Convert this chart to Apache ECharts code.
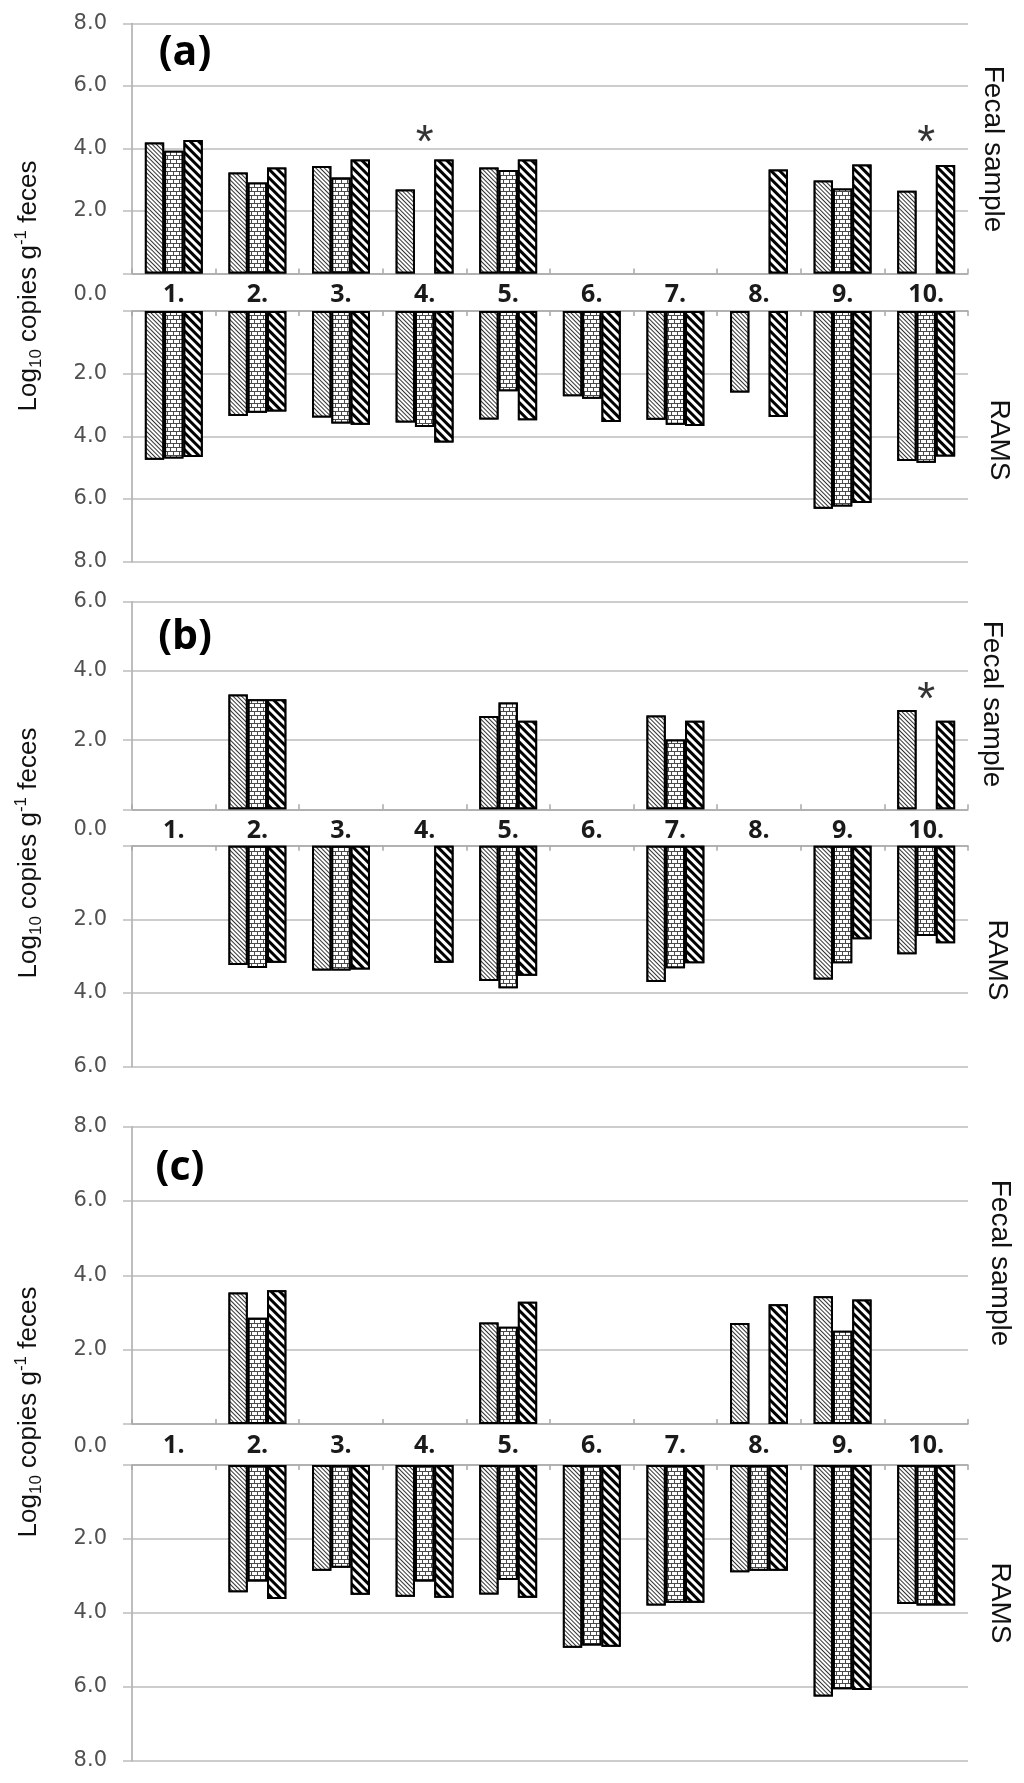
<!DOCTYPE html>
<html>
<head>
<meta charset="utf-8">
<script src="https://cdn.jsdelivr.net/npm/echarts@6/dist/echarts.min.js"></script>
<style>
html,body{margin:0;padding:0;background:#fff;}
#chart{width:1024px;height:1783px;}
</style>
</head>
<body>
<div id="chart"></div>
<script>
// ---------------- data ----------------
const categories = ['1.', '2.', '3.', '4.', '5.', '6.', '7.', '8.', '9.', '10.'];

// panel (a)
const aFecal1 = [4.19, 3.23, 3.44, 2.69, 3.39, null, null, null, 2.98, 2.65];
const aFecal2 = [3.93, 2.91, 3.07, null, 3.31, null, null, null, 2.72, null];
const aFecal3 = [4.27, 3.39, 3.65, 3.65, 3.65, null, null, 3.33, 3.49, 3.47];
const aRams1 = [4.75, 3.35, 3.40, 3.56, 3.46, 2.72, 3.47, 2.60, 6.31, 4.79];
const aRams2 = [4.71, 3.25, 3.59, 3.70, 2.56, 2.80, 3.63, null, 6.24, 4.84];
const aRams3 = [4.66, 3.21, 3.63, 4.20, 3.49, 3.54, 3.67, 3.38, 6.13, 4.64];

// panel (b)
const bFecal1 = [null, 3.32, null, null, 2.70, null, 2.71, null, null, 2.87];
const bFecal2 = [null, 3.18, null, null, 3.09, null, 2.02, null, null, null];
const bFecal3 = [null, 3.18, null, null, 2.56, null, 2.56, null, null, 2.56];
const bRams1 = [null, 3.24, 3.39, null, 3.67, null, 3.70, null, 3.63, 2.95];
const bRams2 = [null, 3.32, 3.39, null, 3.87, null, 3.33, null, 3.19, 2.45];
const bRams3 = [null, 3.18, 3.36, 3.18, 3.53, null, 3.19, null, 2.54, 2.65];

// panel (c)
const cFecal1 = [null, 3.54, null, null, 2.73, null, null, 2.72, 3.44, null];
const cFecal2 = [null, 2.86, null, null, 2.62, null, null, null, 2.51, null];
const cFecal3 = [null, 3.60, null, null, 3.29, null, null, 3.22, 3.35, null];
const cRams1 = [null, 3.44, 2.86, 3.56, 3.50, 4.94, 3.80, 2.90, 6.26, 3.76];
const cRams2 = [null, 3.15, 2.78, 3.15, 3.11, 4.88, 3.72, 2.86, 6.06, 3.80];
const cRams3 = [null, 3.62, 3.51, 3.59, 3.59, 4.91, 3.72, 2.86, 6.08, 3.80];

// axis maxima per panel
const axisMax = [8, 6, 8];
const tickStep = 2;

// asterisk annotations: panel index, category, value
const asteriskPanel = [0, 0, 1];
const asteriskCat = ['4.', '10.', '10.'];
const asteriskValue = [4.5, 4.5, 3.45];

const panelLetters = ['(a)', '(b)', '(c)'];
const topLabel = 'Fecal sample';
const bottomLabel = 'RAMS';

// ---------------- styles / layout ----------------
const panelData = [
  { fecal: [aFecal1, aFecal2, aFecal3], rams: [aRams1, aRams2, aRams3] },
  { fecal: [bFecal1, bFecal2, bFecal3], rams: [bRams1, bRams2, bRams3] },
  { fecal: [cFecal1, cFecal2, cFecal3], rams: [cRams1, cRams2, cRams3] }
];
const layout = [
  { top: [23.5, 250], bot: [311, 250.7], zeroY: 295, titleY: 286, letter: [185, 53], fecal: [993, 149], rams: [999, 440] },
  { top: [601.7, 207.6], bot: [845.7, 221], zeroY: 830, titleY: 853, letter: [185, 637], fecal: [992, 704], rams: [997, 960] },
  { top: [1126.7, 297.3], bot: [1465, 296], zeroY: 1447, titleY: 1412, letter: [180, 1168], fecal: [1000, 1263], rams: [1000, 1603] }
];
const GL = 132, GR = 56;
const gridColor = '#bdbdbd';
const axisColor = '#a8a8a8';
const tickFont = 'DejaVu Sans';

const decals = [
  { symbol: 'rect', symbolSize: 1, color: '#333333', backgroundColor: '#ffffff', dashArrayX: [1, 0], dashArrayY: [1, 1.8], rotation: Math.PI / 4 },
  { symbol: 'rect', symbolSize: 1, color: '#ffffff', backgroundColor: '#4a4a4a', dashArrayX: [[5, 1], [2, 1, 3, 0]], dashArrayY: [3, 1], rotation: 0 },
  { symbol: 'rect', symbolSize: 1, color: '#000000', backgroundColor: '#ffffff', dashArrayX: [1, 0], dashArrayY: [2.6, 3], rotation: Math.PI / 4 }
];

const grids = [], xAxes = [], yAxes = [], series = [], graphic = [];

function yFmt(v) { return v === 0 ? '' : v.toFixed(1); }

layout.forEach((L, p) => {
  const max = axisMax[p];
  [['top', L.top], ['bot', L.bot]].forEach(([kind, g], k) => {
    const gi = grids.length;
    grids.push({ left: GL, right: GR, top: g[0], height: g[1], containLabel: false });
    xAxes.push({
      type: 'category', gridIndex: gi, data: categories,
      position: kind === 'top' ? 'bottom' : 'top',
      boundaryGap: true,
      axisLine: { show: true, lineStyle: { color: axisColor, width: 1.5 } },
      axisTick: { show: true, inside: true, length: 5, alignWithLabel: false, lineStyle: { color: axisColor, width: 1.5 } },
      axisLabel: kind === 'top' ? {
        show: true, margin: 9, color: '#1a1a1a', fontFamily: 'Open Sans', fontWeight: 'bold', fontSize: 25, interval: 0
      } : { show: false },
      splitLine: { show: false }
    });
    yAxes.push({
      type: 'value', gridIndex: gi, min: 0, max: max, interval: tickStep,
      inverse: kind === 'bot',
      axisLine: { show: true, lineStyle: { color: axisColor, width: 1.5 } },
      axisTick: { show: true, length: 9, lineStyle: { color: gridColor, width: 1.5 } },
      axisLabel: { show: true, margin: 25, color: '#505050', fontFamily: tickFont, fontSize: 21, formatter: yFmt },
      splitLine: { show: true, lineStyle: { color: gridColor, width: 1.5 } }
    });
    const arrs = kind === 'top' ? panelData[p].fecal : panelData[p].rams;
    arrs.forEach((arr, s) => {
      series.push({
        type: 'bar', xAxisIndex: gi, yAxisIndex: gi, data: arr,
        barWidth: 19.3, barGap: '0%',
        itemStyle: { color: '#ffffff', borderColor: '#000', borderWidth: 2, decal: decals[s] },
        emphasis: { disabled: true }, silent: true
      });
    });
    if (kind === 'top') {
      const pts = [];
      asteriskPanel.forEach((ap, i) => { if (ap === p) pts.push([asteriskCat[i], asteriskValue[i]]); });
      if (pts.length) {
        series.push({
          type: 'scatter', xAxisIndex: gi, yAxisIndex: gi, data: pts,
          symbol: 'circle', symbolSize: 1, itemStyle: { color: 'rgba(0,0,0,0)' },
          label: { show: true, position: 'inside', formatter: '*', fontFamily: 'Liberation Sans', fontSize: 46, color: '#000', offset: [0, 11] },
          silent: true, z: 5
        });
      }
    }
  });

  // 0.0 label between the two halves
  graphic.push({ type: 'text', x: 107, y: L.zeroY, style: { text: '0.0', fill: '#505050', font: '21px "DejaVu Sans"', align: 'right', verticalAlign: 'middle' } });
  // panel letter
  graphic.push({ type: 'text', x: L.letter[0], y: L.letter[1], style: { text: panelLetters[p], fill: '#000', font: 'bold 41px "Open Sans"', align: 'center', verticalAlign: 'middle' } });
  // right labels
  graphic.push({ type: 'text', x: L.fecal[0], y: L.fecal[1], rotation: -Math.PI / 2, style: { text: topLabel, fill: '#111', font: '28px "Liberation Sans"', align: 'center', verticalAlign: 'middle' } });
  graphic.push({ type: 'text', x: L.rams[0], y: L.rams[1], rotation: -Math.PI / 2, style: { text: bottomLabel, fill: '#111', font: '28px "Liberation Sans"', align: 'center', verticalAlign: 'middle' } });
  // y title
  graphic.push({
    type: 'text', x: 29, y: L.titleY, rotation: Math.PI / 2,
    style: {
      text: '{n|Log}{sub|10}{n| copies g}{sup|-1}{n| feces}',
      align: 'center', verticalAlign: 'middle',
      rich: {
        n: { fontFamily: 'Liberation Sans', fontSize: 26, lineHeight: 32, verticalAlign: 'middle', fill: '#111', color: '#111' },
        sub: { fontFamily: 'Liberation Sans', fontSize: 17, lineHeight: 17, verticalAlign: 'bottom', fill: '#111', color: '#111' },
        sup: { fontFamily: 'Liberation Sans', fontSize: 17, lineHeight: 17, verticalAlign: 'top', fill: '#111', color: '#111' }
      }
    }
  });
});

const chart = echarts.init(document.getElementById('chart'), null, { renderer: 'canvas' });
chart.setOption({
  animation: false,
  backgroundColor: '#ffffff',
  grid: grids, xAxis: xAxes, yAxis: yAxes, series: series, graphic: graphic
});
</script>
</body>
</html>
